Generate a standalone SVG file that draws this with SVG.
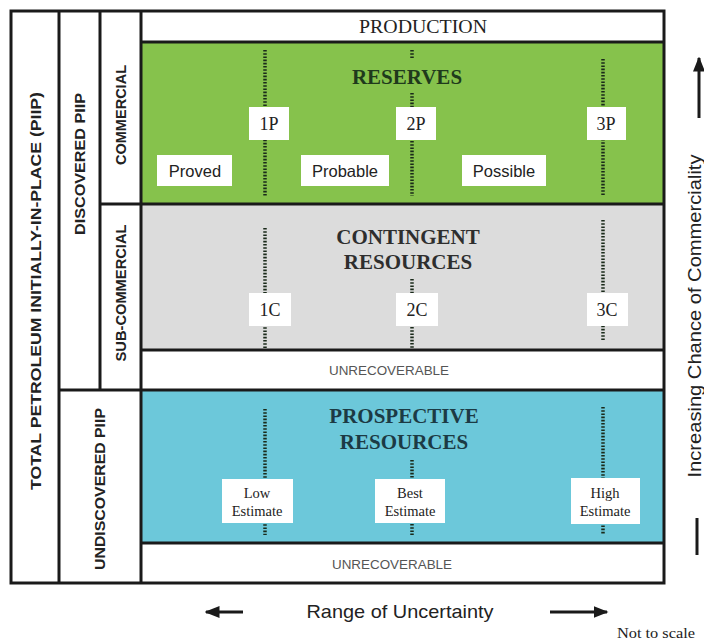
<svg xmlns="http://www.w3.org/2000/svg" width="704" height="643" viewBox="0 0 704 643">
<defs>
<style>
.bx{fill:none;stroke:#1a1a1a;stroke-width:3}
.ln{stroke:#1a1a1a;stroke-width:3;fill:none}
.dot{stroke:#1a2a1a;stroke-width:3.5;stroke-dasharray:1.6 1.6;fill:none}
.lbl{fill:#fff}
.side{font-family:"Liberation Sans",Arial,sans-serif;font-weight:bold;font-size:15px;fill:#222;text-anchor:middle}
.ser{font-family:"Liberation Serif","Times New Roman",serif;fill:#222;text-anchor:middle}
.sans{font-family:"Liberation Sans",Arial,sans-serif;fill:#222;text-anchor:middle}
.title{font-family:"Liberation Serif","Times New Roman",serif;font-weight:bold;font-size:21px;text-anchor:middle}
.unrec{font-family:"Liberation Sans",Arial,sans-serif;font-size:13px;fill:#555;text-anchor:middle}
</style>
<marker id="ah" viewBox="0 0 10 10" refX="9" refY="5" markerWidth="5" markerHeight="5" orient="auto-start-reverse">
<path d="M0,1 L10,5 L0,9 z" fill="#1a1a1a"/>
</marker>
</defs>
<rect width="704" height="643" fill="#fff"/>

<g id="production">
<rect x="141" y="11" width="523" height="31" fill="#fff"/>
<text class="ser" x="423" y="33" font-size="18" textLength="128" lengthAdjust="spacingAndGlyphs">PRODUCTION</text>
</g>

<g id="reserves">
<rect x="141" y="42" width="523" height="162" fill="#86c24c"/>
<text class="title" x="407" y="84" fill="#1f3a1c">RESERVES</text>
</g>

<g id="contingent">
<rect x="141" y="204" width="523" height="146" fill="#dcdcdc"/>
<text class="title" x="408" y="244" fill="#2e2e2e">CONTINGENT</text>
<text class="title" x="408" y="269" fill="#2e2e2e">RESOURCES</text>
</g>

<g id="unrecoverable1">
<rect x="141" y="350" width="523" height="40" fill="#fff"/>
<text class="unrec" x="389" y="375" textLength="120" lengthAdjust="spacingAndGlyphs">UNRECOVERABLE</text>
</g>

<g id="prospective">
<rect x="141" y="391" width="523" height="152" fill="#6cc8da"/>
<text class="title" x="404" y="423" fill="#1c3a44">PROSPECTIVE</text>
<text class="title" x="404" y="449" fill="#1c3a44">RESOURCES</text>
</g>

<g id="unrecoverable2">
<rect x="141" y="543" width="523" height="40" fill="#fff"/>
<text class="unrec" x="392" y="569" textLength="120" lengthAdjust="spacingAndGlyphs">UNRECOVERABLE</text>
</g>

<g id="grid">
<rect class="bx" x="11" y="11" width="653" height="572"/>
<line class="ln" x1="59" y1="11" x2="59" y2="583"/>
<line class="ln" x1="100" y1="11" x2="100" y2="390"/>
<line class="ln" x1="141" y1="11" x2="141" y2="583"/>
<line class="ln" x1="141" y1="42" x2="664" y2="42"/>
<line class="ln" x1="100" y1="204" x2="664" y2="204"/>
<line class="ln" x1="141" y1="350" x2="664" y2="350"/>
<line class="ln" x1="59" y1="390" x2="664" y2="390"/>
<line class="ln" x1="141" y1="543" x2="664" y2="543"/>
</g>

<g id="side-labels">
<text class="side" transform="translate(41,291) rotate(-90)" textLength="398" lengthAdjust="spacingAndGlyphs">TOTAL PETROLEUM INITIALLY-IN-PLACE (PIIP)</text>
<text class="side" transform="translate(85,164) rotate(-90)" textLength="142" lengthAdjust="spacingAndGlyphs">DISCOVERED PIIP</text>
<text class="side" transform="translate(126,115) rotate(-90)" textLength="100" lengthAdjust="spacingAndGlyphs">COMMERCIAL</text>
<text class="side" transform="translate(126,293) rotate(-90)" textLength="137" lengthAdjust="spacingAndGlyphs">SUB-COMMERCIAL</text>
<text class="side" transform="translate(105,489) rotate(-90)" textLength="162" lengthAdjust="spacingAndGlyphs">UNDISCOVERED PIIP</text>
</g>

<g id="connectors">
<line class="dot" x1="265" y1="50" x2="265" y2="196"/>
<line class="dot" x1="412" y1="50" x2="412" y2="58"/>
<line class="dot" x1="412" y1="93" x2="412" y2="196"/>
<line class="dot" x1="603" y1="59" x2="603" y2="196"/>
<line class="dot" x1="265" y1="228" x2="265" y2="348"/>
<line class="dot" x1="412" y1="279" x2="412" y2="348"/>
<line class="dot" x1="603" y1="220" x2="603" y2="341"/>
<line class="dot" x1="265" y1="409" x2="265" y2="535"/>
<line class="dot" x1="412" y1="460" x2="412" y2="535"/>
<line class="dot" x1="603" y1="407" x2="603" y2="535"/>
</g>

<g id="p1"><rect class="lbl" x="249" y="107" width="40" height="33"/><text class="ser" x="269" y="130" font-size="18">1P</text></g>
<g id="p2"><rect class="lbl" x="396" y="107" width="40" height="33"/><text class="ser" x="416" y="130" font-size="18">2P</text></g>
<g id="p3"><rect class="lbl" x="587" y="107" width="39" height="33"/><text class="ser" x="606" y="130" font-size="18">3P</text></g>
<g id="proved"><rect class="lbl" x="157" y="155" width="75" height="31"/><text class="sans" x="195" y="177" font-size="16.5">Proved</text></g>
<g id="probable"><rect class="lbl" x="301" y="155" width="88" height="31"/><text class="sans" x="345" y="177" font-size="16.5">Probable</text></g>
<g id="possible"><rect class="lbl" x="462" y="155" width="84" height="31"/><text class="sans" x="504" y="177" font-size="16.5">Possible</text></g>

<g id="c1"><rect class="lbl" x="249" y="293" width="42" height="33"/><text class="ser" x="270" y="316" font-size="18">1C</text></g>
<g id="c2"><rect class="lbl" x="396" y="293" width="42" height="33"/><text class="ser" x="417" y="316" font-size="18">2C</text></g>
<g id="c3"><rect class="lbl" x="587" y="293" width="41" height="33"/><text class="ser" x="607" y="316" font-size="18">3C</text></g>

<g id="low"><rect class="lbl" x="222" y="479" width="71" height="44"/><text class="ser" x="257" y="498" font-size="14.5">Low</text><text class="ser" x="257" y="516" font-size="14.5">Estimate</text></g>
<g id="best"><rect class="lbl" x="375" y="479" width="70" height="44"/><text class="ser" x="410" y="498" font-size="14.5">Best</text><text class="ser" x="410" y="516" font-size="14.5">Estimate</text></g>
<g id="high"><rect class="lbl" x="571" y="478" width="69" height="46"/><text class="ser" x="605" y="498" font-size="14.5">High</text><text class="ser" x="605" y="516" font-size="14.5">Estimate</text></g>

<g id="uncertainty">
<line class="ln" x1="243" y1="612" x2="206" y2="612" stroke-width="2.5" marker-end="url(#ah)"/>
<text class="sans" x="400" y="618" font-size="19" textLength="187" lengthAdjust="spacingAndGlyphs">Range of Uncertainty</text>
<line class="ln" x1="550" y1="612" x2="607" y2="612" stroke-width="2.5" marker-end="url(#ah)"/>
</g>

<g id="commerciality">
<line class="ln" x1="699" y1="118" x2="699" y2="58" stroke-width="2.5" marker-end="url(#ah)"/>
<text class="sans" font-size="18" transform="translate(701,316) rotate(-90)" textLength="323" lengthAdjust="spacingAndGlyphs">Increasing Chance of Commerciality</text>
<line class="ln" x1="697" y1="518" x2="697" y2="555" stroke-width="2.5"/>
</g>

<g id="note"><text class="ser" x="656" y="638" font-size="15" textLength="78" lengthAdjust="spacingAndGlyphs">Not to scale</text></g>
</svg>
